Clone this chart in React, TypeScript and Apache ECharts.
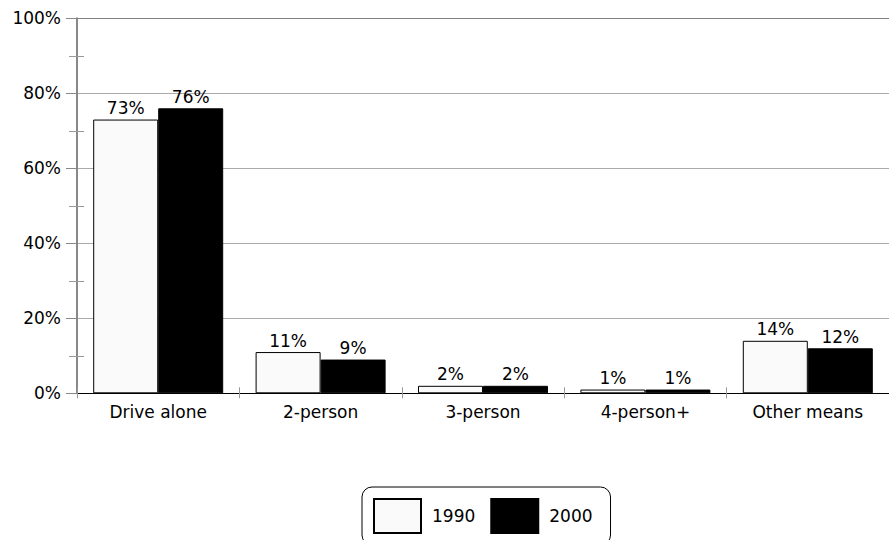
import React, { useEffect, useRef } from "react";
import * as echarts from "echarts";

const categories = ["Drive alone", "2-person", "3-person", "4-person+", "Other means"];
const values1990 = [73, 11, 2, 1, 14];
const values2000 = [76, 9, 2, 1, 12];
const seriesNames = ["1990", "2000"];
const yTicks = [0, 20, 40, 60, 80, 100];

const FONT = "DejaVu Sans";

export default function App() {
  const ref = useRef<HTMLDivElement>(null);

  useEffect(() => {
    if (!ref.current) return;
    const chart = echarts.init(ref.current, null, { renderer: "svg" });

    const gridMain = { left: 77, right: -8, top: 18.3, bottom: 146.7 };
    const step = (540 - gridMain.top - gridMain.bottom) / 10; // one 10% step

    const barLabel = {
      show: true,
      position: "top",
      distance: 3,
      color: "#000",
      fontFamily: FONT,
      fontSize: 17,
      formatter: (p: any) => `${p.value}%`,
    };

    chart.setOption({
      animation: false,
      backgroundColor: "#fff",
      grid: [
        gridMain,
        // companion grid used only for the 10/30/50/70/90 ticks
        {
          left: 77,
          right: -8,
          top: gridMain.top + step,
          bottom: gridMain.bottom + step,
        },
      ],
      legend: {
        data: seriesNames,
        left: 362,
        top: 487,
        orient: "horizontal",
        icon: "rect",
        itemWidth: 47,
        itemHeight: 34,
        itemGap: 15,
        padding: [11, 18, 11, 11],
        borderColor: "#000",
        borderWidth: 1,
        borderRadius: 10,
        textStyle: {
          fontFamily: FONT,
          fontSize: 17,
          color: "#000",
          padding: [0, 0, 0, 6],
        },
      },
      xAxis: [
        {
          type: "category",
          gridIndex: 0,
          data: categories,
          position: "bottom",
          axisLine: { show: true, lineStyle: { color: "#000", width: 1 } },
          axisTick: { show: false },
          axisLabel: {
            fontFamily: FONT,
            fontSize: 17,
            color: "#000",
            margin: 10,
          },
        },
        {
          // tick marks crossing the category axis
          type: "category",
          gridIndex: 0,
          data: categories,
          position: "bottom",
          offset: -6,
          axisLine: { show: false },
          axisTick: { show: true, length: 11, lineStyle: { color: "#999", width: 1 } },
          axisLabel: { show: false },
        },
        {
          type: "category",
          gridIndex: 1,
          data: categories,
          show: false,
        },
      ],
      yAxis: [
        {
          type: "value",
          gridIndex: 0,
          min: yTicks[0],
          max: yTicks[yTicks.length - 1],
          interval: 20,
          axisLine: { show: true, lineStyle: { color: "#888", width: 2 } },
          axisTick: { show: true, length: 11, lineStyle: { color: "#888", width: 1 } },
          axisLabel: {
            fontFamily: FONT,
            fontSize: 17,
            color: "#000",
            margin: 16,
            formatter: (v: number) => `${v}%`,
          },
          splitLine: {
            show: true,
            lineStyle: {
              color: ["#aaa", "#aaa", "#aaa", "#aaa", "#aaa", "#808080"],
              width: 1,
            },
          },
        },
        {
          // minor ticks at the odd tens, drawn across the axis line
          type: "value",
          gridIndex: 1,
          min: 10,
          max: 90,
          interval: 20,
          position: "left",
          offset: -7,
          axisLine: { show: false },
          axisTick: { show: true, length: 15, lineStyle: { color: "#999", width: 1 } },
          axisLabel: { show: false },
          splitLine: { show: false },
        },
      ],
      series: [
        {
          name: seriesNames[0],
          type: "bar",
          xAxisIndex: 0,
          yAxisIndex: 0,
          data: values1990,
          barWidth: 65,
          barGap: "0%",
          itemStyle: { color: "#fafafa", borderColor: "#000", borderWidth: 1 },
          label: barLabel,
        },
        {
          name: seriesNames[1],
          type: "bar",
          xAxisIndex: 0,
          yAxisIndex: 0,
          data: values2000,
          barWidth: 65,
          barGap: "0%",
          itemStyle: { color: "#000", borderColor: "#000", borderWidth: 1 },
          label: barLabel,
        },
      ],
    });

    return () => chart.dispose();
  }, []);

  return (
    <div
      ref={ref}
      style={{ position: "absolute", left: 0, top: 0, width: 889, height: 540 }}
    />
  );
}
